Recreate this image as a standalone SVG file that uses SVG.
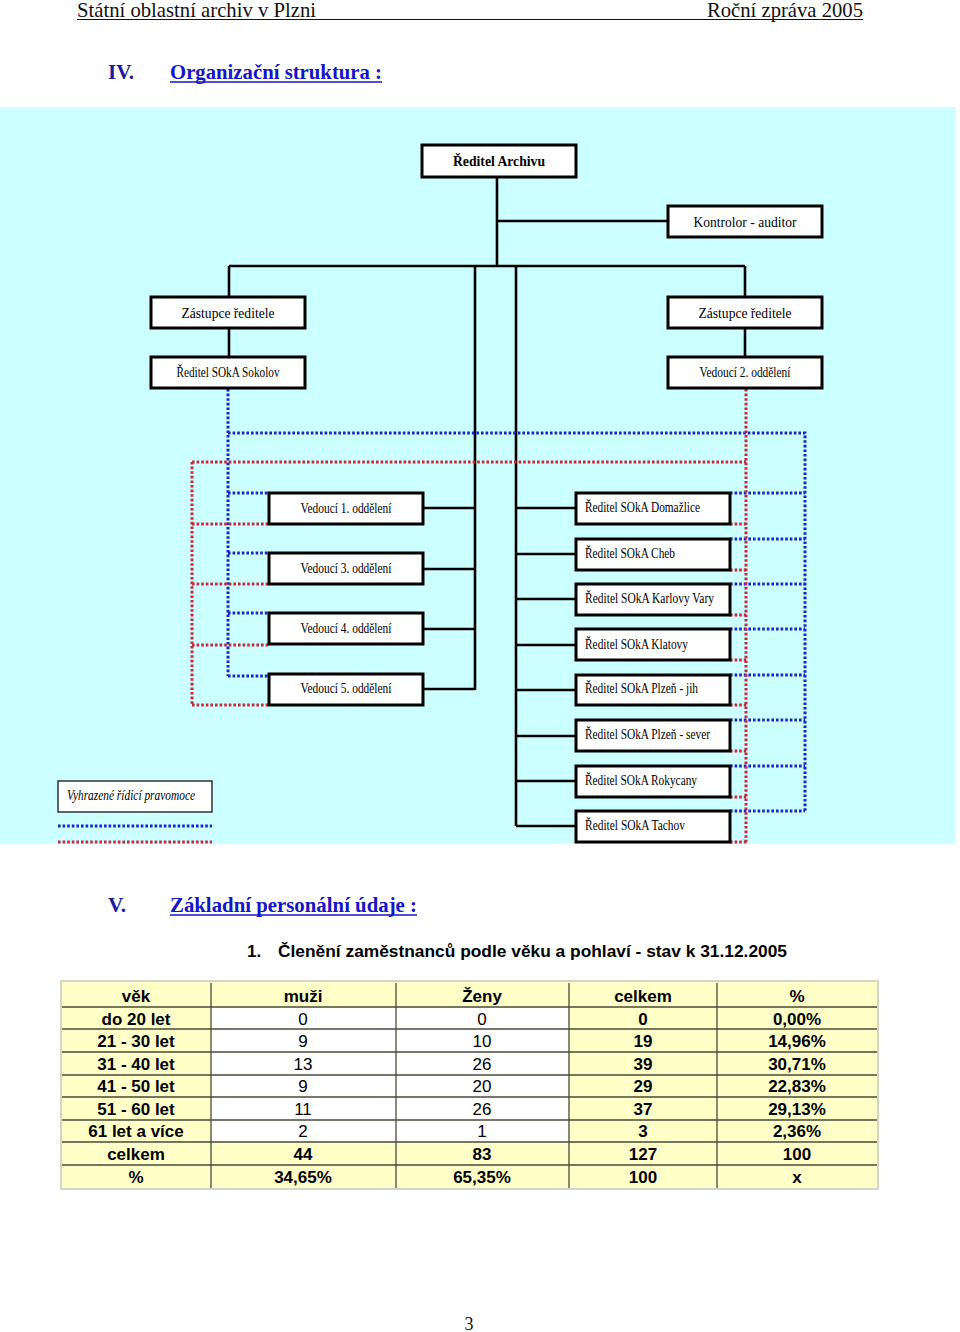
<svg xmlns="http://www.w3.org/2000/svg" width="960" height="1332" viewBox="0 0 960 1332">
<style>
.hdr{font-family:"Liberation Serif",serif;font-size:21px;fill:#111}
.sec{font-family:"Liberation Serif",serif;font-size:21px;font-weight:bold}
.box{fill:#fff;stroke:#000;stroke-width:3}
.bt{font-family:"Liberation Serif",serif;font-size:14.5px;fill:#000}
.bc{text-anchor:middle}
.ln{fill:none;stroke:#000;stroke-width:2.6}
.blue{fill:none;stroke:#1a22c8;stroke-width:3;stroke-dasharray:2.6 2}
.red{fill:none;stroke:#c8283a;stroke-width:3;stroke-dasharray:2.6 2}
.tt{font-family:"Liberation Sans",sans-serif;font-size:17px;fill:#000;text-anchor:middle}
.b{font-weight:bold}
.y{fill:#ffffc8}
.w{fill:#ffffff}
.grid{stroke:#4a4a3a;stroke-width:1.3;fill:none}
</style>

<!-- page header -->
<g id="page-header">
<text class="hdr" x="77" y="17" textLength="239" lengthAdjust="spacingAndGlyphs">Státní oblastní archiv v Plzni</text>
<text class="hdr" x="863" y="17" text-anchor="end" textLength="156" lengthAdjust="spacingAndGlyphs">Roční zpráva 2005</text>
<line x1="77" y1="19.5" x2="863" y2="19.5" stroke="#111" stroke-width="1.2"/>
</g>

<g id="title-iv">
<text class="sec" x="108" y="79" fill="#1a1aa0" textLength="26" lengthAdjust="spacingAndGlyphs">IV.</text>
<text class="sec" x="170" y="79" fill="#1414c8" textLength="212" lengthAdjust="spacingAndGlyphs">Organizační struktura :</text>
<line x1="170" y1="82" x2="382" y2="82" stroke="#1414c8" stroke-width="1.5"/>
</g>

<rect id="background" x="0" y="107" width="955" height="737" fill="#ccffff"/>

<g id="connectors">
<path class="ln" d="M497,177V266 M497,221H667 M229,266H745 M229,266V296 M745,266V296 M229,328V356 M745,328V356"/>
<path class="ln" d="M475,266V690 M516,266V826"/>
<path class="ln" d="M423,508H475 M423,569H475 M423,629H475 M423,689H475"/>
<path class="ln" d="M516,508H575 M516,554H575 M516,599H575 M516,645H575 M516,690H575 M516,736H575 M516,781H575 M516,826H575"/>
<path class="blue" d="M228,389V676 M228,433H805V811 M228,493H268 M228,553H268 M228,613H268 M228,676H268"/>
<path class="blue" d="M730,493H805 M730,539H805 M730,584H805 M730,629H805 M730,675H805 M730,720H805 M730,766H805 M730,811H805"/>
<path class="red" d="M746,389V843 M192,462H746 M192,462V705 M192,524H268 M192,584H268 M192,645H268 M192,705H268"/>
<path class="red" d="M730,524H746 M730,570H746 M730,615H746 M730,660H746 M730,705H746 M730,751H746 M730,797H746 M730,842H746"/>
</g>

<g id="n-reditel"><rect class="box" x="422" y="145" width="154" height="32"/><text class="bt bc" x="499" y="166" font-size="15.5" font-weight="bold" textLength="92" lengthAdjust="spacingAndGlyphs">Ředitel Archivu</text></g>
<g id="n-kontrolor"><rect class="box" x="668" y="206" width="154" height="31"/><text class="bt bc" x="745" y="226.5" textLength="103" lengthAdjust="spacingAndGlyphs">Kontrolor - auditor</text></g>
<g id="n-zast-l"><rect class="box" x="151" y="297" width="154" height="31"/><text class="bt bc" x="228" y="317.5" textLength="93" lengthAdjust="spacingAndGlyphs">Zástupce ředitele</text></g>
<g id="n-zast-r"><rect class="box" x="668" y="297" width="154" height="31"/><text class="bt bc" x="745" y="317.5" textLength="93" lengthAdjust="spacingAndGlyphs">Zástupce ředitele</text></g>
<g id="n-sokolov"><rect class="box" x="151" y="357" width="154" height="31"/><text class="bt bc" x="228" y="376.5" font-size="13.5" textLength="103" lengthAdjust="spacingAndGlyphs">Ředitel SOkA Sokolov</text></g>
<g id="n-ved2"><rect class="box" x="668" y="357" width="154" height="31"/><text class="bt bc" x="745" y="376.5" font-size="13.5" textLength="91" lengthAdjust="spacingAndGlyphs">Vedoucí 2. oddělení</text></g>

<g id="n-ved1"><rect class="box" x="269" y="493" width="154" height="31"/><text class="bt bc" x="346" y="512.5" font-size="13.5" textLength="91" lengthAdjust="spacingAndGlyphs">Vedoucí 1. oddělení</text></g>
<g id="n-ved3"><rect class="box" x="269" y="553" width="154" height="31"/><text class="bt bc" x="346" y="572.5" font-size="13.5" textLength="91" lengthAdjust="spacingAndGlyphs">Vedoucí 3. oddělení</text></g>
<g id="n-ved4"><rect class="box" x="269" y="613" width="154" height="31"/><text class="bt bc" x="346" y="633" font-size="13.5" textLength="91" lengthAdjust="spacingAndGlyphs">Vedoucí 4. oddělení</text></g>
<g id="n-ved5"><rect class="box" x="269" y="674" width="154" height="31"/><text class="bt bc" x="346" y="693" font-size="13.5" textLength="91" lengthAdjust="spacingAndGlyphs">Vedoucí 5. oddělení</text></g>

<g id="n-domazlice"><rect class="box" x="576" y="493" width="154" height="31"/><text class="bt" x="585" y="512" font-size="13.5" textLength="115" lengthAdjust="spacingAndGlyphs">Ředitel SOkA Domažlice</text></g>
<g id="n-cheb"><rect class="box" x="576" y="539" width="154" height="31"/><text class="bt" x="585" y="557.5" font-size="13.5" textLength="90" lengthAdjust="spacingAndGlyphs">Ředitel SOkA Cheb</text></g>
<g id="n-kvary"><rect class="box" x="576" y="584" width="154" height="31"/><text class="bt" x="585" y="603" font-size="13.5" textLength="129" lengthAdjust="spacingAndGlyphs">Ředitel SOkA Karlovy Vary</text></g>
<g id="n-klatovy"><rect class="box" x="576" y="629" width="154" height="31"/><text class="bt" x="585" y="648.5" font-size="13.5" textLength="103" lengthAdjust="spacingAndGlyphs">Ředitel SOkA Klatovy</text></g>
<g id="n-plzen-jih"><rect class="box" x="576" y="675" width="154" height="30"/><text class="bt" x="585" y="693" font-size="13.5" textLength="113" lengthAdjust="spacingAndGlyphs">Ředitel SOkA Plzeň - jih</text></g>
<g id="n-plzen-sever"><rect class="box" x="576" y="720" width="154" height="31"/><text class="bt" x="585" y="739" font-size="13.5" textLength="125" lengthAdjust="spacingAndGlyphs">Ředitel SOkA Plzeň - sever</text></g>
<g id="n-rokycany"><rect class="box" x="576" y="766" width="154" height="31"/><text class="bt" x="585" y="784.5" font-size="13.5" textLength="112" lengthAdjust="spacingAndGlyphs">Ředitel SOkA Rokycany</text></g>
<g id="n-tachov"><rect class="box" x="576" y="811" width="154" height="31"/><text class="bt" x="585" y="830" font-size="13.5" textLength="100" lengthAdjust="spacingAndGlyphs">Ředitel SOkA Tachov</text></g>

<g id="legend">
<rect x="58" y="781" width="154" height="31" fill="#fff" stroke="#333" stroke-width="1.5"/>
<text class="bt" x="67" y="800" font-size="13.5" font-style="italic" textLength="128" lengthAdjust="spacingAndGlyphs">Vyhrazené řídicí pravomoce</text>
<path class="blue" d="M58,826H212"/>
<path class="red" d="M58,842H212"/>
</g>

<g id="title-v">
<text class="sec" x="108" y="912" fill="#1a1aa0" textLength="18" lengthAdjust="spacingAndGlyphs">V.</text>
<text class="sec" x="170" y="912" fill="#1414c8" textLength="247" lengthAdjust="spacingAndGlyphs">Základní personální údaje :</text>
<line x1="170" y1="915" x2="417" y2="915" stroke="#1414c8" stroke-width="1.5"/>
</g>

<g id="table-caption" font-family="Liberation Sans, sans-serif" font-size="17" font-weight="bold">
<text x="247" y="957">1.</text>
<text x="278" y="957" textLength="509" lengthAdjust="spacingAndGlyphs">Členění zaměstnanců podle věku a pohlaví - stav k 31.12.2005</text>
</g>

<g id="table">
<rect x="61" y="981" width="817" height="208" fill="#ffffc8" stroke="#d4d4c8" stroke-width="2"/>
<rect class="w" x="211" y="1007" width="358" height="135"/>
<path class="grid" d="M62,1007H877 M62,1029H877 M62,1052H877 M62,1075H877 M62,1097H877 M62,1120H877 M62,1142H877 M62,1165H877 M211,983V1188 M396,983V1188 M569,983V1188 M717,983V1188"/>
<g class="tt b">
<text x="136" y="1002">věk</text><text x="303" y="1002">muži</text><text x="482" y="1002">Ženy</text><text x="643" y="1002">celkem</text><text x="797" y="1002">%</text>
<text x="136" y="1025">do 20 let</text><text x="643" y="1025">0</text><text x="797" y="1025">0,00%</text>
<text x="136" y="1047">21 - 30 let</text><text x="643" y="1047">19</text><text x="797" y="1047">14,96%</text>
<text x="136" y="1070">31 - 40 let</text><text x="643" y="1070">39</text><text x="797" y="1070">30,71%</text>
<text x="136" y="1092">41 - 50 let</text><text x="643" y="1092">29</text><text x="797" y="1092">22,83%</text>
<text x="136" y="1115">51 - 60 let</text><text x="643" y="1115">37</text><text x="797" y="1115">29,13%</text>
<text x="136" y="1137">61 let a více</text><text x="643" y="1137">3</text><text x="797" y="1137">2,36%</text>
<text x="136" y="1160">celkem</text><text x="303" y="1160">44</text><text x="482" y="1160">83</text><text x="643" y="1160">127</text><text x="797" y="1160">100</text>
<text x="136" y="1183">%</text><text x="303" y="1183">34,65%</text><text x="482" y="1183">65,35%</text><text x="643" y="1183">100</text><text x="797" y="1183">x</text>
</g>
<g class="tt">
<text x="303" y="1025">0</text><text x="482" y="1025">0</text>
<text x="303" y="1047">9</text><text x="482" y="1047">10</text>
<text x="303" y="1070">13</text><text x="482" y="1070">26</text>
<text x="303" y="1092">9</text><text x="482" y="1092">20</text>
<text x="303" y="1115">11</text><text x="482" y="1115">26</text>
<text x="303" y="1137">2</text><text x="482" y="1137">1</text>
</g>
</g>

<text id="page-number" x="469" y="1330" font-family="Liberation Serif, serif" font-size="18" fill="#111" text-anchor="middle">3</text>
</svg>
